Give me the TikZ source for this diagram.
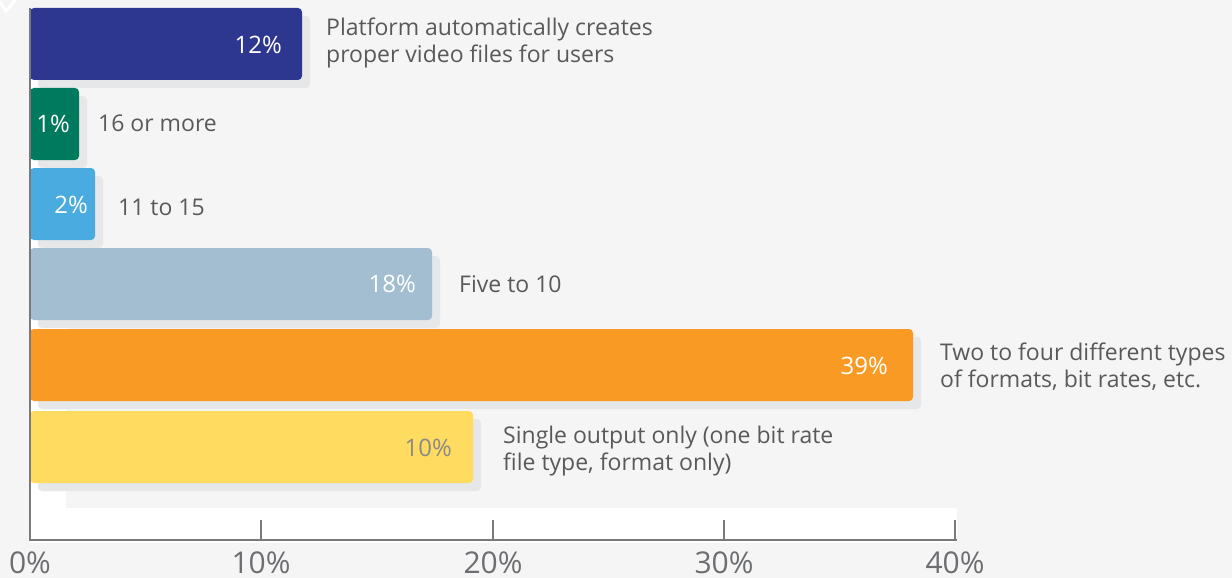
\documentclass[tikz,border=0pt]{standalone}
\usepackage{fontspec}
\setmainfont{Open Sans}
\definecolor{pagebg}{HTML}{F5F5F5}
\definecolor{barshadow}{HTML}{E6E7E8}
\definecolor{labeltext}{HTML}{58595B}
\definecolor{axisline}{HTML}{7A7A7A}
\definecolor{ticktext}{HTML}{6D6E71}
\definecolor{navybar}{HTML}{2E3790}
\definecolor{greenbar}{HTML}{007A5E}
\definecolor{skybar}{HTML}{4AABE1}
\definecolor{steelbar}{HTML}{A3BDD1}
\definecolor{orangebar}{HTML}{F99A25}
\definecolor{yellowbar}{HTML}{FFDB5F}
\definecolor{pctgray}{HTML}{8A8A8A}
\begin{document}
\begin{tikzpicture}[x=1pt,y=-1pt,
  pct/.style={anchor=east, inner sep=0pt, text=white, font=\fontsize{24}{28}\selectfont},
  answer/.style={anchor=west, inner sep=0pt, align=left, text=labeltext, font=\fontsize{23}{27}\selectfont},
  ticklabel/.style={anchor=base, inner sep=0pt, text=ticktext, font=\fontsize{30}{32}\selectfont},
  shadowbox/.style={fill=barshadow, rounded corners=4pt},
  axisstroke/.style={draw=axisline, line width=2pt}]
\useasboundingbox (0,0) rectangle (1232,578);
% page and plot area
\fill[pagebg] (0,0) rectangle (1232,578);
\fill[white] (30,8) rectangle (957,543);
\fill[pagebg] (66,0) rectangle (957,508);
% corner mark
\draw[white, line width=3pt] (0,2) -- (6,11) -- (16,-1);
% bars: top edge / right end / colour
\foreach \y/\xe/\c in {8/302/navybar, 88/79/greenbar, 168/95/skybar,
                       248/432/steelbar, 329/913/orangebar, 411/473/yellowbar}{
  \fill[shadowbox] (38,\y+8) rectangle (\xe+8,\y+80);
  \fill[\c, rounded corners=4pt] (30,\y) rectangle (\xe,\y+72);
}
% values inside the bars
\node[pct] (p12) at (282,45) {12\%};
\node[pct] (p1)  at (70,124) {1\%};
\node[pct] (p2)  at (88,205) {2\%};
\node[pct] (p18) at (416,284) {18\%};
\node[pct] (p39) at (888,366) {39\%};
\node[pct, text=pctgray] (p10) at (452,448) {10\%};
% answer labels
\node[answer] (a1) at (326,43) {Platform automatically creates\\proper video files for users};
\node[answer] (a2) at (98,123) {16 or more};
\node[answer] (a3) at (118,207) {11 to 15};
\node[answer] (a4) at (459,284) {Five to 10};
\node[answer] (a5) at (940,367) {Two to four different types\\of formats, bit rates, etc.};
\node[answer] (a6) at (503,451) {Single output only (one bit rate\\file type, format only)};
% axes and ticks
\coordinate (origin) at (30,540);
\coordinate (top) at (30,8);
\coordinate (xend) at (957,540);
\draw[axisstroke] (top) -- (origin) -- (xend);
\foreach \x in {261,493,724,955}{
  \draw[axisline, line width=1.5pt] (\x,540) -- (\x,520);
}
\foreach \x/\t in {30/0, 261/10, 493/20, 724/30, 955/40}{
  \node[ticklabel] (t\t) at (\x,573) {\t\%};
}
\end{tikzpicture}
\end{document}
